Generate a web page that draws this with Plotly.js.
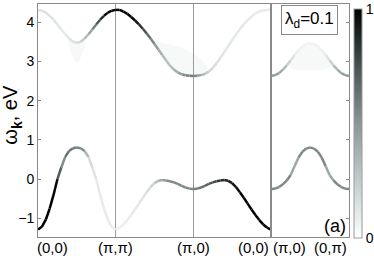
<!DOCTYPE html>
<html>
<head>
<meta charset="utf-8">
<script src="https://cdn.plot.ly/plotly-3.0.1.min.js"></script>
<style>html,body{margin:0;padding:0;background:#fff;}#chart{width:374px;height:259px;}</style>
</head>
<body>
<div id="chart"></div>
<script>
// k-path positions: (0,0)->(pi,pi)->(pi,0)->(0,0) in panel 1, (pi,0)->(0,pi) in panel 2
const kx1 = [0,0.05,0.1,0.15,0.2,0.25,0.3,0.35,0.4,0.45,0.5,0.55,0.6,0.65,0.7,0.75,0.8,0.85,0.9,0.95,1,
  1.05,1.1,1.15,1.2,1.25,1.3,1.35,1.4,1.45,1.5,1.55,1.6,1.65,1.7,1.75,1.8,1.85,1.9,1.95,2,
  2.05,2.1,2.15,2.2,2.25,2.3,2.35,2.4,2.45,2.5,2.55,2.6,2.65,2.7,2.75,2.8,2.85,2.9,2.95,3];
const kx2 = [0,0.05,0.1,0.15,0.2,0.25,0.3,0.35,0.4,0.45,0.5,0.55,0.6,0.65,0.7,0.75,0.8,0.85,0.9,0.95,1];

const tickVals1 = [0,1,2,3];
const tickText1 = ['(0,0)','(\u03c0,\u03c0)','(\u03c0,0)','(0,0)'];
const tickVals2 = [0,1];
const tickText2 = ['(\u03c0,0)','(0,\u03c0)'];
const yTickVals = [-1,0,1,2,3,4];

// lower band (energies, eV) and spectral weight
const lower1 = [-1.28,-1.21,-1.03,-0.75,-0.40,0.0,0.30,0.57,0.72,0.79,0.81,0.79,0.72,0.57,0.30,0.0,-0.40,-0.75,-1.03,-1.21,-1.28,
  -1.23,-1.15,-1.04,-0.91,-0.77,-0.62,-0.47,-0.33,-0.20,-0.10,-0.04,-0.02,-0.03,-0.05,-0.08,-0.12,-0.17,-0.21,-0.24,-0.25,
  -0.24,-0.21,-0.17,-0.12,-0.08,-0.05,-0.03,-0.02,-0.04,-0.10,-0.20,-0.33,-0.47,-0.62,-0.77,-0.91,-1.04,-1.15,-1.23,-1.28];
const lowerW1 = [1,1,1,1,1,0.97,0.45,0.62,0.62,0.6,0.58,0.55,0.5,0.2,0.15,0.12,0.1,0.1,0.1,0.09,0.08,
  0.08,0.08,0.09,0.1,0.1,0.12,0.13,0.15,0.18,0.25,0.35,0.45,0.5,0.55,0.55,0.55,0.55,0.55,0.55,0.56,
  0.6,0.62,0.65,0.7,0.75,0.8,0.85,0.88,0.9,0.93,0.95,0.97,1,1,1,1,1,1,1,1];
// upper band
const upper1 = [4.31,4.29,4.24,4.16,4.06,3.94,3.81,3.69,3.58,3.50,3.47,3.50,3.58,3.69,3.81,3.94,4.06,4.16,4.24,4.29,4.31,
  4.31,4.27,4.21,4.13,4.04,3.94,3.83,3.71,3.58,3.44,3.30,3.16,3.02,2.89,2.79,2.72,2.67,2.645,2.635,2.63,
  2.635,2.65,2.68,2.74,2.83,2.95,3.09,3.24,3.39,3.54,3.68,3.82,3.94,4.05,4.14,4.22,4.27,4.30,4.31,4.31];
const upperW1 = [0.15,0.15,0.15,0.15,0.14,0.13,0.12,0.12,0.13,0.15,0.17,0.2,0.28,0.38,0.5,0.65,0.8,0.92,1,1,1,
  1,1,1,1,0.95,0.9,0.8,0.7,0.6,0.5,0.42,0.35,0.3,0.3,0.35,0.42,0.5,0.55,0.58,0.6,
  0.5,0.4,0.3,0.22,0.18,0.15,0.13,0.12,0.12,0.12,0.12,0.12,0.11,0.11,0.11,0.1,0.1,0.1,0.1,0.1];

const lower2 = [-0.25,-0.24,-0.20,-0.13,-0.03,0.11,0.33,0.55,0.70,0.78,0.81,0.78,0.70,0.55,0.33,0.11,-0.03,-0.13,-0.20,-0.24,-0.25];
const lowerW2 = [0.55,0.55,0.55,0.55,0.55,0.55,0.3,0.55,0.55,0.55,0.55,0.55,0.55,0.55,0.55,0.3,0.55,0.55,0.55,0.55,0.55];
const upper2 = [2.63,2.65,2.70,2.79,2.90,3.03,3.16,3.28,3.38,3.44,3.46,3.44,3.38,3.28,3.16,3.03,2.90,2.79,2.70,2.65,2.63];
const upperW2 = [0.5,0.48,0.45,0.38,0.28,0.18,0.1,0.07,0.06,0.06,0.06,0.06,0.06,0.07,0.1,0.18,0.28,0.38,0.45,0.48,0.5];

// faint incoherent broadening regions (top / bottom edges)
const broadAx = [0.38,0.42,0.46,0.5,0.54,0.58,0.62];
const broadAtop = [3.55,3.50,3.48,3.47,3.48,3.50,3.55];
const broadAbot = [3.50,3.25,3.05,2.95,3.05,3.25,3.50];
const broadBx = [1.45,1.55,1.65,1.75,1.85,1.95,2.05,2.15,2.2];
const broadBtop = [3.58,3.50,3.45,3.40,3.35,3.25,3.15,2.95,2.74];
const broadBbot = [3.58,3.30,3.02,2.79,2.67,2.635,2.635,2.68,2.74];
const broadCx = [0.2,0.3,0.4,0.5,0.6,0.7,0.8];
const broadCtop = [2.90,3.16,3.38,3.46,3.38,3.16,2.90];
const broadCbot = [2.90,2.80,2.78,2.78,2.78,2.80,2.90];

const colorscale = [[0,'#ffffff'],[0.25,'#c3cccc'],[0.5,'#8a9797'],[0.75,'#475151'],[1,'#000000']];

function hex2rgb(h){return [parseInt(h.substr(1,2),16),parseInt(h.substr(3,2),16),parseInt(h.substr(5,2),16)];}
function colorAt(v){
  v = Math.max(0, Math.min(1, v));
  for (let i = 0; i < colorscale.length - 1; i++) {
    const a = colorscale[i], b = colorscale[i+1];
    if (v <= b[0]) {
      const f = (v - a[0]) / (b[0] - a[0]);
      const ca = hex2rgb(a[1]), cb = hex2rgb(b[1]);
      const c = ca.map((x, j) => Math.round(x + (cb[j] - x) * f));
      return 'rgb(' + c.join(',') + ')';
    }
  }
  return colorscale[colorscale.length-1][1];
}

const traces = [];
function addBroad(xs, top, bot, xa, ya){
  traces.push({type:'scatter', mode:'lines', x:xs, y:bot, xaxis:xa, yaxis:ya, line:{width:0},
    hoverinfo:'skip', showlegend:false});
  traces.push({type:'scatter', mode:'lines', x:xs, y:top, xaxis:xa, yaxis:ya, line:{width:0},
    fill:'tonexty', fillcolor:'rgba(150,160,160,0.08)', hoverinfo:'skip', showlegend:false});
}
addBroad(broadAx, broadAtop, broadAbot, 'x', 'y');
addBroad(broadBx, broadBtop, broadBbot, 'x', 'y');
addBroad(broadCx, broadCtop, broadCbot, 'x2', 'y2');

const segs = [];
function addBand(xs, ys, ws, xa, ya, width){
  for (let i = 0; i < xs.length - 1; i++) {
    const v = (ws[i] + ws[i+1]) / 2;
    segs.push({v: v, tr: {type:'scatter', mode:'lines', x:[xs[i], xs[i+1]], y:[ys[i], ys[i+1]],
      xaxis: xa, yaxis: ya, line:{color: colorAt(v), width: width}, hoverinfo:'skip', showlegend:false}});
  }
}
addBand(kx1, upper1, upperW1, 'x', 'y', 2.5);
addBand(kx1, lower1, lowerW1, 'x', 'y', 2.5);
addBand(kx2, upper2, upperW2, 'x2', 'y2', 2.5);
addBand(kx2, lower2, lowerW2, 'x2', 'y2', 2.5);
segs.sort((a, b) => a.v - b.v);
segs.forEach(s => traces.push(s.tr));

// colorbar holder
traces.push({type:'scatter', mode:'markers', x:[kx1[0]], y:[lower1[0]], xaxis:'x', yaxis:'y',
  hoverinfo:'skip', showlegend:false,
  marker:{size:0.1, opacity:0, color:[lowerW1[0]], cmin:0, cmax:1, colorscale: colorscale, showscale:true,
    colorbar:{thickness:8, thicknessmode:'pixels', len:229, lenmode:'pixels', x:1.0128, xanchor:'left', xpad:0,
      y:0.488, yanchor:'middle', ypad:0, outlinewidth:1, outlinecolor:'#999999', tickvals:[0,1], ticktext:['0','1'],
      ticks:'', tickfont:{size:14, color:'#000'}, ticklabelpad:2}}});

const FONT = 'Liberation Sans, Arial, sans-serif';
const annotations = [];
tickVals1.forEach((v, i) => {
  annotations.push({xref:'x', yref:'paper', x:v, y:0, yanchor:'top', showarrow:false, text:tickText1[i],
    xanchor: i === 0 ? 'left' : (i === tickVals1.length - 1 ? 'right' : 'center'), xshift: i === 0 ? -3 : 0,
    font:{size:15, color:'#000', family:FONT}});
});
tickVals2.forEach((v, i) => {
  annotations.push({xref:'x2', yref:'paper', x:v, y:0, yanchor:'top', showarrow:false, text:tickText2[i],
    xanchor: i === 0 ? 'left' : 'right', font:{size:15, color:'#000', family:FONT}});
});
annotations.push({xref:'paper', yref:'paper', x:0, xshift:-26, y:0.525, textangle:-90, showarrow:false,
  text:'\u03c9<sub><b>k</b></sub>, eV', font:{size:20, color:'#000', family:FONT}, xanchor:'center', yanchor:'middle'});
annotations.push({xref:'x2 domain', yref:'y2 domain', x:0.49, y:0.931, showarrow:false, xanchor:'center', yanchor:'middle',
  text:'\u03bb<sub>d</sub>=0.1', font:{size:17, color:'#000', family:FONT}, bordercolor:'#888888', borderwidth:1,
  borderpad:3, bgcolor:'#ffffff'});
annotations.push({xref:'x2 domain', yref:'y2 domain', x:0.82, y:0.048, showarrow:false, xanchor:'center', yanchor:'middle',
  text:'(a)', font:{size:18, color:'#000', family:FONT}});

const axLine = '#8a8a8a';
const yRange = [-1.47, 4.46];
const layout = {
  width:374, height:259, margin:{l:38, r:24, t:4, b:22}, paper_bgcolor:'#fff', plot_bgcolor:'#fff',
  showlegend:false, font:{family:FONT, color:'#000'},
  xaxis:{domain:[0,0.749], range:[0,3], tickvals:tickVals1, showticklabels:false, ticks:'', showgrid:true,
    gridcolor:'#9a9a9a', gridwidth:1, showline:true, linecolor:axLine, linewidth:1, mirror:true, zeroline:false, anchor:'y'},
  yaxis:{range:yRange, tickvals:yTickVals, ticks:'inside', ticklen:3, tickcolor:axLine, showline:true, linecolor:axLine,
    linewidth:1, mirror:true, showgrid:false, zeroline:false, tickfont:{size:14, color:'#000'}, anchor:'x'},
  xaxis2:{domain:[0.75,1], range:[0,1], tickvals:tickVals2, showticklabels:false, ticks:'', showgrid:false,
    showline:true, linecolor:axLine, linewidth:1, mirror:true, zeroline:false, anchor:'y2'},
  yaxis2:{range:yRange, tickvals:yTickVals, side:'right', ticks:'inside', ticklen:3, tickcolor:axLine, showticklabels:false,
    showline:true, linecolor:axLine, linewidth:1, mirror:true, showgrid:false, zeroline:false, anchor:'x2'},
  annotations: annotations
};
Plotly.newPlot('chart', traces, layout, {staticPlot:true, displayModeBar:false});
</script>
</body>
</html>
